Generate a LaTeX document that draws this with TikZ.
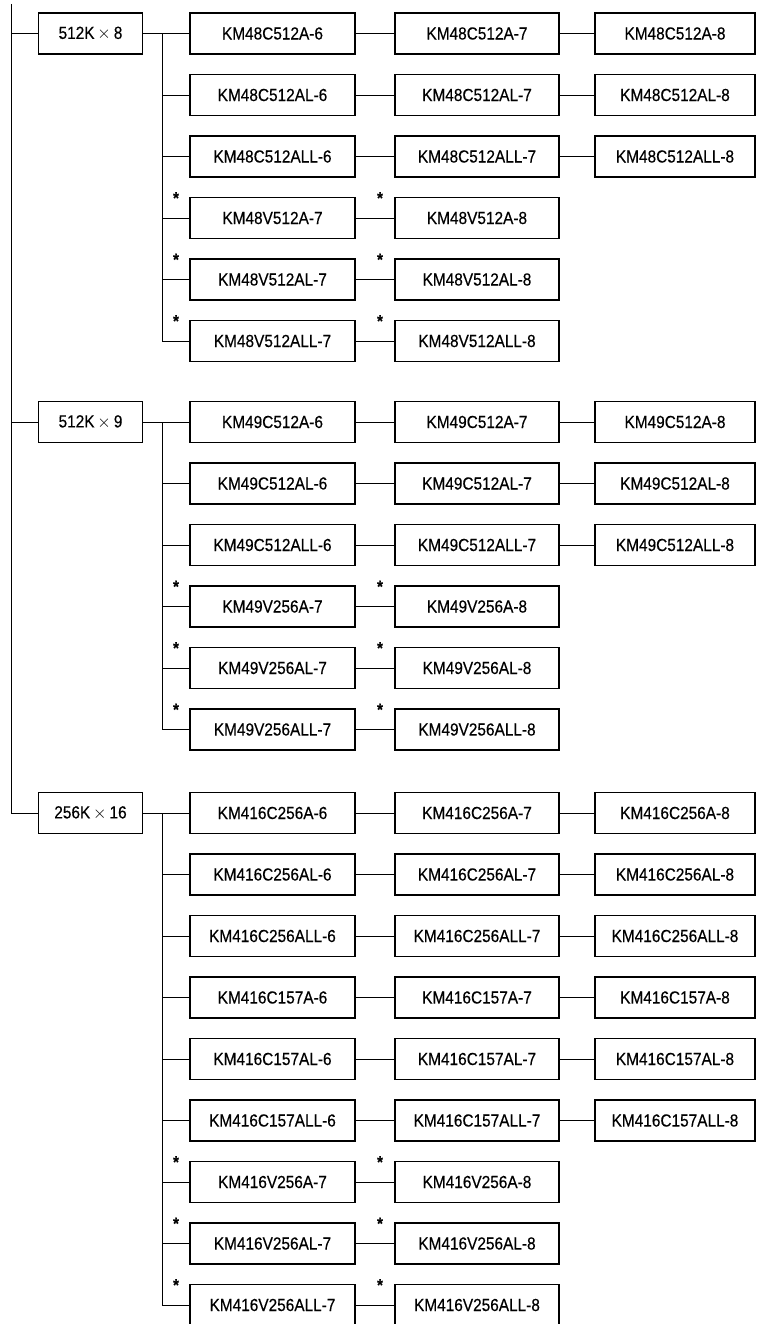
\documentclass[tikz,border=0pt]{standalone}
\usepackage{fontspec}
\setmainfont[FakeStretch=0.88,FakeBold=0.35]{Liberation Sans}
\tikzset{
  box/.style={draw, line width=1.8pt, minimum height=41pt, inner sep=0pt, font=\fontsize{17.5}{19}\selectfont},
  hd/.style={box, minimum width=104pt},
  cA/.style={box, minimum width=165pt},
  cB/.style={box, minimum width=164pt},
  cC/.style={box, minimum width=160pt},
  conn/.style={line width=0.9pt},
  astr/.style={inner sep=0pt, anchor=north, font=\fontsize{17}{18}\selectfont\bfseries}
}
\newcommand\rowC[3]{%
  \node[cA] (#1a) at (272.5,#2) {#3-6};
  \node[cB] (#1b) at (477,#2) {#3-7};
  \node[cC] (#1c) at (675,#2) {#3-8};
  \draw[conn] (#1a) -- (#1b);
  \draw[conn] (#1b) -- (#1c);
}
\newcommand\rowV[3]{%
  \node[cA] (#1a) at (272.5,#2) {#3-7};
  \node[cB] (#1b) at (477,#2) {#3-8};
  \draw[conn] (#1a) -- (#1b);
  \node[astr] (#1s) at (176,{#2-26}) {*};
  \node[astr] (#1t) at (380,{#2-26}) {*};
}
\begin{document}
\begin{tikzpicture}[x=1pt,y=-1pt]
\useasboundingbox (0,0) rectangle (757,1324);
% group 1
\node[hd] (g1h) at (90.5,33.5) {512K\,$\times$\,8};
\rowC{g1r0}{33.5}{KM48C512A}
\rowC{g1r1}{95}{KM48C512AL}
\rowC{g1r2}{156.5}{KM48C512ALL}
\rowV{g1r3}{218}{KM48V512A}
\rowV{g1r4}{279.5}{KM48V512AL}
\rowV{g1r5}{341}{KM48V512ALL}
\coordinate (g1br) at (162,33.5);
\draw[conn] (g1h) -- (g1r0a);
\draw[conn] (g1br) |- (g1r5a.west);
\foreach \r in {1,...,4} {\draw[conn] (g1br |- g1r\r a.west) -- (g1r\r a.west);}
% group 2
\node[hd] (g2h) at (90.5,422) {512K\,$\times$\,9};
\rowC{g2r0}{422}{KM49C512A}
\rowC{g2r1}{483.5}{KM49C512AL}
\rowC{g2r2}{545}{KM49C512ALL}
\rowV{g2r3}{606.5}{KM49V256A}
\rowV{g2r4}{668}{KM49V256AL}
\rowV{g2r5}{729.5}{KM49V256ALL}
\coordinate (g2br) at (162,422);
\draw[conn] (g2h) -- (g2r0a);
\draw[conn] (g2br) |- (g2r5a.west);
\foreach \r in {1,...,4} {\draw[conn] (g2br |- g2r\r a.west) -- (g2r\r a.west);}
% group 3
\node[hd] (g3h) at (90.5,813) {256K\,$\times$\,16};
\rowC{g3r0}{813}{KM416C256A}
\rowC{g3r1}{874.5}{KM416C256AL}
\rowC{g3r2}{936}{KM416C256ALL}
\rowC{g3r3}{997.5}{KM416C157A}
\rowC{g3r4}{1059}{KM416C157AL}
\rowC{g3r5}{1120.5}{KM416C157ALL}
\rowV{g3r6}{1182}{KM416V256A}
\rowV{g3r7}{1243.5}{KM416V256AL}
\rowV{g3r8}{1305}{KM416V256ALL}
\coordinate (g3br) at (162,813);
\draw[conn] (g3h) -- (g3r0a);
\draw[conn] (g3br) |- (g3r8a.west);
\foreach \r in {1,...,7} {\draw[conn] (g3br |- g3r\r a.west) -- (g3r\r a.west);}
% trunk
\coordinate (top) at (11,4);
\draw[conn] (top) |- (g3h.west);
\draw[conn] (top |- g1h.west) -- (g1h.west);
\draw[conn] (top |- g2h.west) -- (g2h.west);
\end{tikzpicture}
\end{document}
